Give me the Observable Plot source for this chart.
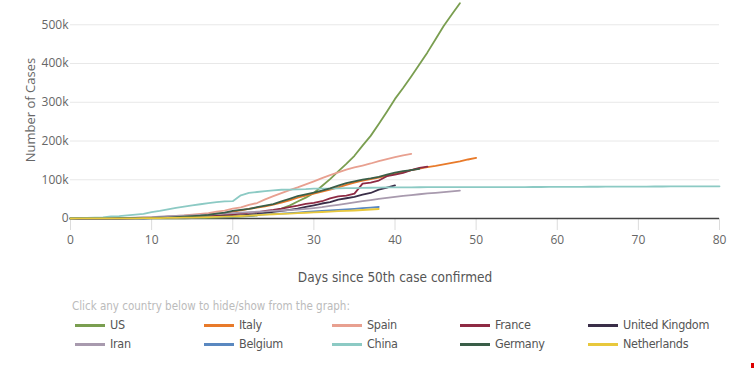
<!DOCTYPE html>
<html>
<head>
<meta charset="utf-8">
<script src="https://cdn.jsdelivr.net/npm/d3@7"></script>
<script src="https://cdn.jsdelivr.net/npm/@observablehq/plot@0.6"></script>
<style>
  html, body { margin: 0; padding: 0; background: #fff; }
  #wrap { position: relative; width: 755px; height: 370px; overflow: hidden; background: #fff; }
  #chart { position: absolute; left: 0; top: 0; }
  .narrow { font-family: "DejaVu Sans Condensed", Roboto, sans-serif; font-weight: 300; }
  #xlabel { position: absolute; left: 70px; width: 650px; top: 268px; line-height: 18px; text-align: center; font-size: 13.5px; color: #555; }
  #hint { position: absolute; left: 72px; top: 298px; line-height: 16px; font-size: 11.5px; color: #bbb; }
  .item { position: absolute; line-height: 16px; font-size: 12.5px; letter-spacing: -0.3px; color: #555; white-space: nowrap; }
  .sw { position: absolute; left: 0; top: 7px; width: 30px; height: 3px; }
  .lab { position: absolute; left: 35px; top: 0; }
  #dot { position: absolute; left: 751px; top: 363px; width: 3px; height: 5px; background: #d00; }
</style>
</head>
<body>
<div id="wrap">
  <div id="chart"></div>
  <div id="xlabel" class="narrow">Days since 50th case confirmed</div>
  <div id="hint" class="narrow">Click any country below to hide/show from the graph:</div>
  <div id="legend"></div>
  <div id="dot"></div>
</div>
<script>
const countries = ["US", "Italy", "Spain", "France", "United Kingdom", "Iran", "Belgium", "China", "Germany", "Netherlands"];
const colors = ["#7a9e50", "#e87a2a", "#e8a090", "#8e2a44", "#3a2e48", "#a89aae", "#5a88c0", "#8ccac4", "#3a5e48", "#e8c83c"];

const us = [53, 53, 59, 60, 60, 68, 74, 98, 118, 149, 217, 262, 402, 518, 583, 959, 1281, 1663, 2179, 2727, 3499, 4632, 6421, 7783, 13747, 19273, 25600, 33276, 43843, 53736, 65778, 83836, 101657, 121465, 140909, 161831, 188172, 213242, 243622, 275367, 308650, 336802, 366317, 397121, 428654, 462780, 496535, 526396, 555313];
const italy = [62, 155, 229, 322, 453, 655, 888, 1128, 1694, 2036, 2502, 3089, 3858, 4636, 5883, 7375, 9172, 10149, 12462, 12462, 17660, 21157, 24747, 27980, 31506, 35713, 41035, 47021, 53578, 59138, 63927, 69176, 74386, 80589, 86498, 92472, 97689, 101739, 105792, 110574, 115242, 119827, 124632, 128948, 132547, 135586, 139422, 143626, 147577, 152271, 156363];
const spain = [84, 120, 165, 222, 259, 400, 500, 673, 1073, 1695, 2277, 2277, 5232, 6391, 7798, 9942, 11748, 13910, 17963, 20410, 25374, 28768, 35136, 39885, 49515, 57786, 65719, 73235, 80110, 87956, 95923, 104118, 112065, 119199, 126168, 131646, 136675, 141942, 148220, 153222, 158273, 163027, 166831];
const france = [57, 100, 130, 191, 204, 288, 380, 656, 957, 1134, 1217, 1792, 2289, 2289, 3672, 4480, 4513, 6650, 7652, 9043, 10871, 12612, 14282, 16018, 19856, 22304, 25233, 29155, 32964, 37575, 40174, 44550, 52128, 56989, 59105, 64338, 89953, 92839, 98010, 109069, 112950, 117749, 124869, 130730, 133670];
const uk = [51, 86, 116, 164, 207, 274, 322, 384, 459, 459, 802, 1144, 1145, 1551, 1960, 2642, 2716, 4014, 5067, 5745, 6726, 8164, 9640, 11812, 14745, 17312, 19780, 22453, 25481, 29865, 34173, 38689, 42477, 48436, 52279, 55949, 61474, 65872, 74605, 79874, 85206];
const iran = [61, 95, 139, 245, 388, 593, 978, 1501, 2336, 2922, 3513, 4747, 5823, 6566, 7161, 8042, 9000, 10075, 11364, 12729, 13938, 14991, 16169, 17361, 18407, 19644, 20610, 21638, 23049, 24811, 27017, 29406, 32332, 35408, 38309, 41495, 44605, 47593, 50468, 53183, 55743, 58226, 60500, 62589, 64586, 66220, 68192, 70029, 71686];
const belgium = [50, 109, 169, 200, 239, 267, 314, 314, 559, 689, 886, 1058, 1243, 1486, 1795, 2257, 2815, 3401, 3743, 4269, 4937, 6235, 7284, 9134, 10836, 11899, 12775, 13964, 15348, 16770, 18431, 19691, 20814, 22194, 23403, 24983, 26667, 28018, 29647];
const china = [643, 920, 1406, 2075, 2877, 5509, 6087, 8141, 9802, 11891, 16630, 19716, 23707, 27440, 30587, 34110, 36814, 39829, 42354, 44386, 44759, 59895, 66358, 68413, 70513, 72434, 74211, 74619, 75077, 75550, 77001, 77022, 77241, 77754, 78166, 78600, 78928, 79356, 79932, 80136, 80261, 80386, 80537, 80690, 80770, 80823, 80860, 80887, 80921, 80932, 80945, 80977, 81003, 81033, 81058, 81102, 81156, 81250, 81305, 81435, 81498, 81591, 81661, 81782, 81897, 81999, 82122, 82198, 82279, 82361, 82432, 82511, 82543, 82602, 82665, 82718, 82809, 82883, 82941, 83014, 83134];
const germany = [79, 130, 159, 196, 262, 482, 670, 799, 1040, 1176, 1457, 1908, 2078, 3675, 4585, 5795, 7272, 9257, 12327, 15320, 19848, 22213, 24873, 29056, 32986, 37323, 43938, 50871, 57695, 62095, 66885, 71808, 77872, 84794, 91159, 96092, 100123, 103374, 107663, 113296, 118181, 122171, 124908, 127854];
const netherlands = [38, 82, 128, 188, 265, 321, 382, 503, 503, 806, 962, 1138, 1416, 1711, 2058, 2467, 3003, 3640, 4216, 4764, 5580, 6438, 7468, 8647, 9819, 10930, 11817, 12667, 13696, 14788, 15821, 16727, 17967, 18926, 19709, 20682, 21903, 23249, 24571];

const xTicks = [0, 10, 20, 30, 40, 50, 60, 70, 80];
const yTicks = [0, 100000, 200000, 300000, 400000, 500000];
const yTickLabels = ["0", "100k", "200k", "300k", "400k", "500k"];

const series = [us, italy, spain, france, uk, iran, belgium, china, germany, netherlands];
const rows = [];
series.forEach((vals, i) => vals.forEach((v, d) => rows.push({country: countries[i], day: d, cases: v})));

const chart = Plot.plot({
  width: 755,
  height: 258,
  marginTop: 1,
  marginLeft: 70,
  marginRight: 36,
  marginBottom: 40,
  style: {fontFamily: "Open Sans, sans-serif", fontSize: "12px", color: "#666", background: "white", overflow: "visible"},
  x: {domain: [0, 80]},
  y: {domain: [0, 560000]},
  color: {domain: countries, range: colors},
  marks: [
    Plot.ruleY(yTicks.filter(d => d > 0), {stroke: "#e8e8e8", strokeWidth: 1}),
    Plot.axisY(yTicks, {tickSize: 0, tickPadding: 2, tickFormat: (d) => yTickLabels[yTicks.indexOf(d)], label: null}),
    Plot.axisX(xTicks, {tickSize: 12, tickPadding: 5, stroke: "#dcdcdc", label: null}),
    Plot.ruleY([0], {stroke: "#444", strokeWidth: 1.5}),
    Plot.line(rows, {x: "day", y: "cases", z: "country", stroke: "country", strokeWidth: 1.8, strokeLinejoin: "round"}),
    Plot.text(["Number of Cases"], {text: d => d, frameAnchor: "left", dx: -40, rotate: -90, textAnchor: "middle", fontSize: 13, fill: "#666"})
  ]
});
document.getElementById("chart").appendChild(chart);

const legend = document.getElementById("legend");
const colX = [75, 204, 332, 460, 588];
const rowY = [317, 336];
countries.forEach((c, i) => {
  const el = document.createElement("div");
  el.className = "item narrow";
  el.style.left = colX[i % 5] + "px";
  el.style.top = rowY[Math.floor(i / 5)] + "px";
  el.innerHTML = `<span class="sw" style="background:${colors[i]}"></span><span class="lab">${c}</span>`;
  legend.appendChild(el);
});
</script>
</body>
</html>
